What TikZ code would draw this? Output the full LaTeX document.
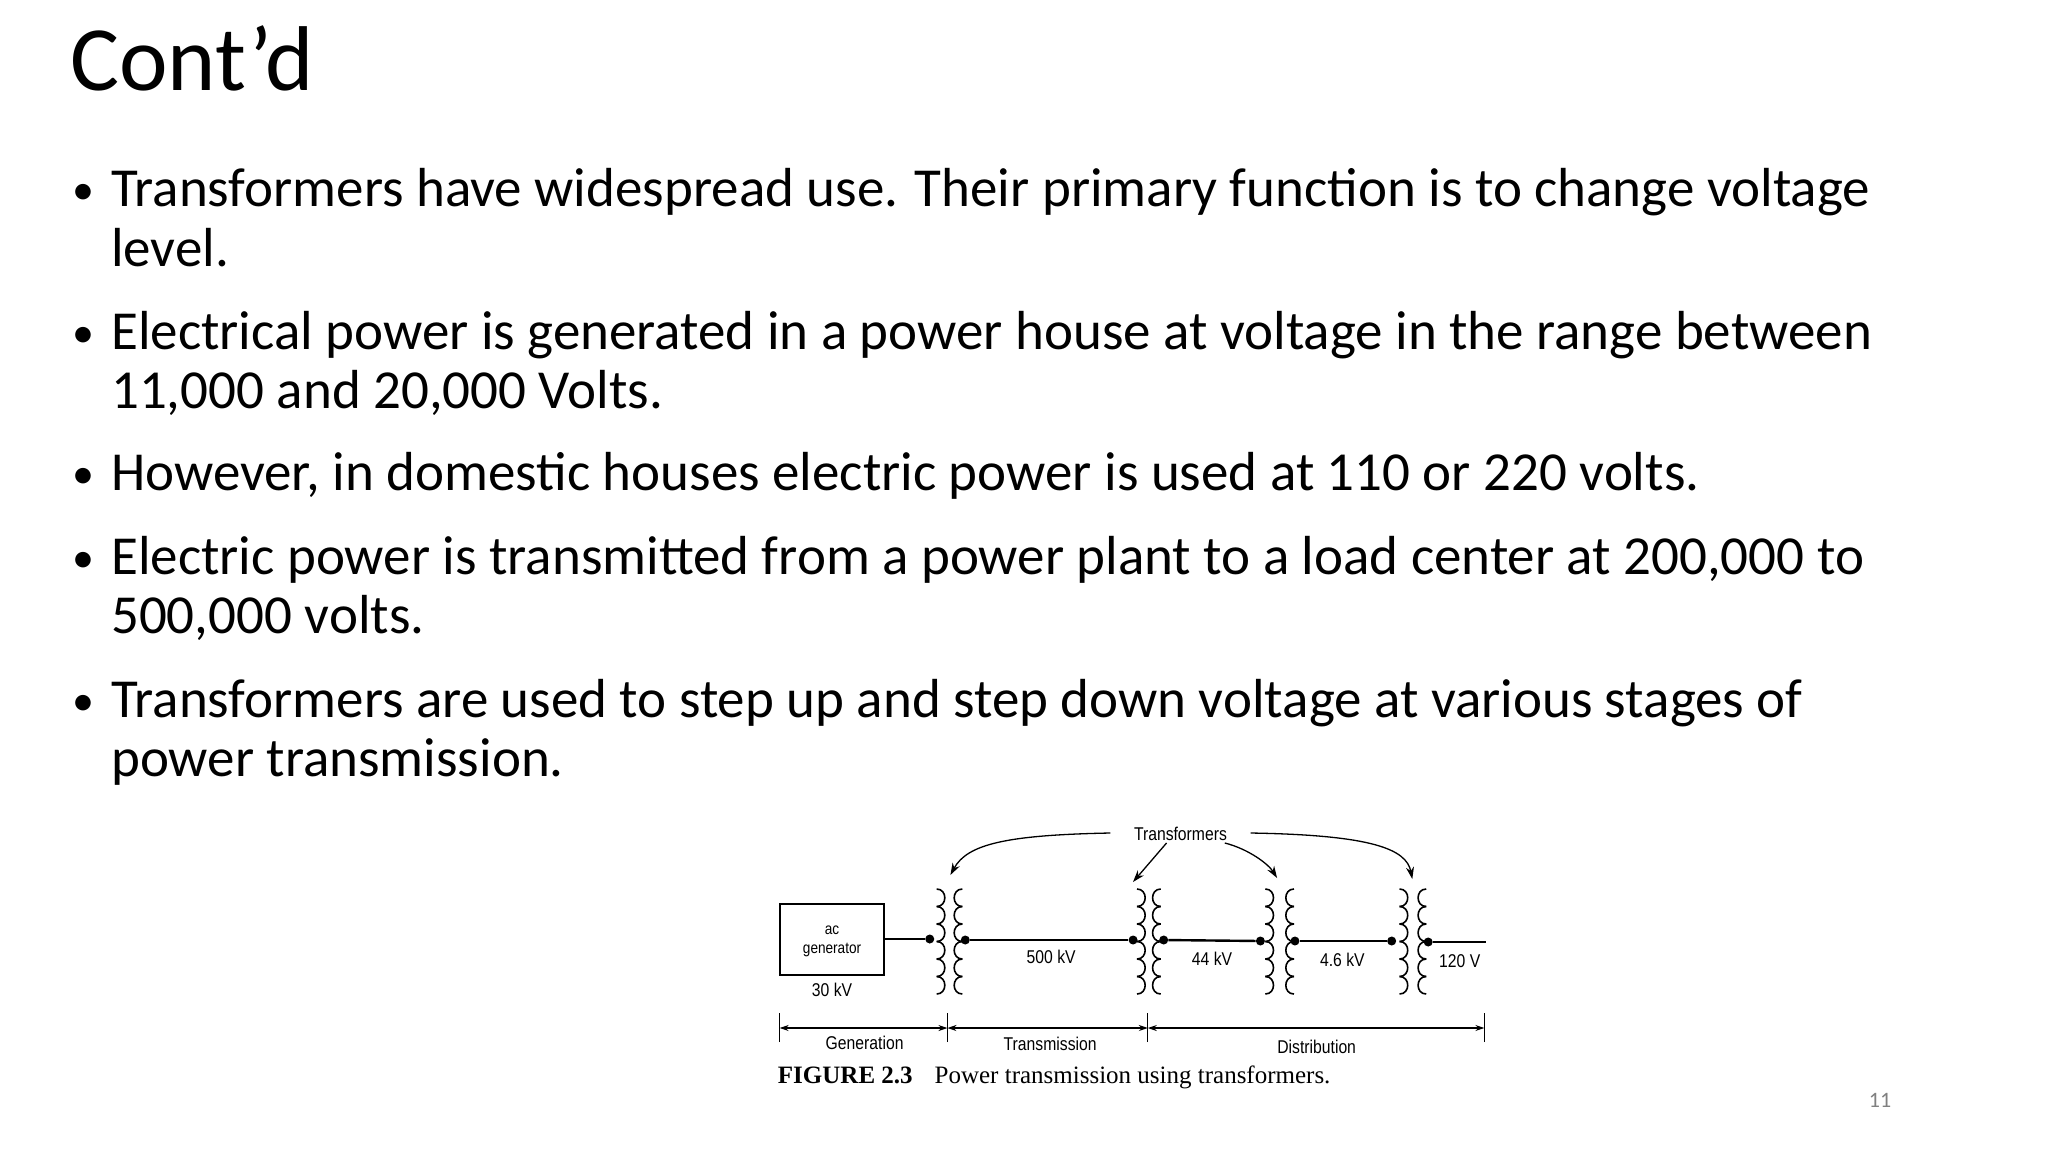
\documentclass[tikz,border=0pt]{standalone}
\usepackage{fontspec}
\setmainfont{Carlito}
\newfontfamily\figsans{Liberation Sans}[FakeStretch=0.85]
\newfontfamily\figserif{Liberation Serif}
\usetikzlibrary{arrows.meta}
\begin{document}
\begin{tikzpicture}[x=1pt,y=-1pt,
  bul/.style={anchor=base west,inner sep=0,font=\fontsize{55}{61}\selectfont},
  lab/.style={inner sep=0,font=\figsans\fontsize{18.5}{20}\selectfont},
  wire/.style={line width=2.4pt},
  coil/.style={line width=1.6pt},
  dotn/.style={circle,fill,inner sep=0,minimum size=9pt},
  ann/.style={line width=1.3pt,-{Stealth[length=12pt,width=8pt]}},
  dim/.style={line width=1.2pt}]
\useasboundingbox (0,0) rectangle (2048,1152);
\node[anchor=base west,inner sep=0,font=\fontsize{92}{100}\selectfont] (title) at (70,90) {Cont’d};
\foreach \n/\y/\t in {
 b1/206/{Transformers have widespread use. Their primary function is to change voltage},
 b1b/266/{level.},
 b2/349/{Electrical power is generated in a power house at voltage in the range between},
 b2b/408/{11,000 and 20,000 Volts.},
 b3/490/{However, in domestic houses electric power is used at 110 or 220 volts.},
 b4/574/{Electric power is transmitted from a power plant to a load center at 200,000 to},
 b4b/633/{500,000 volts.},
 b5/717/{Transformers are used to step up and step down voltage at various stages of},
 b5b/776/{power transmission.}}{
 \node[bul] (\n) at (111,\y) {\t};
}
\foreach \y in {206,349,490,574,717}{
 \node[bul,font=\fontsize{44}{50}\selectfont] at (72,\y-2) {•};
}
\node[font=\fontsize{22}{24}\selectfont,text=gray] (pg) at (1880,1100) {11};
\begin{scope}[xscale=0.987,shift={(0,-11)}]
% generator
\node[draw,line width=1.8pt,minimum width=104pt,minimum height=71pt,inner sep=0] (gen) at (843,950.5) {};
\node[lab,align=center,font=\figsans\fontsize{16}{19}\selectfont] (gt) at (843,952) {ac\\generator};
\node[lab] (kv30) at (843,1001) {30 kV};
% coils
\foreach \x/\s in {949/1,975/-1,1152/1,1176/-1,1282/1,1311/-1,1418/1,1445/-1}{
  \foreach \k in {0,...,5}{
    \draw[coil] (\x,900+17.5*\k) .. controls (\x+\s*11,900+17.5*\k) and (\x+\s*11,917.5+17.5*\k) .. (\x,917.5+17.5*\k);
  }
}
\node[dotn] (d1) at (942,950) {};
\node[dotn] (d2) at (978,951) {};
\node[dotn] (d3) at (1148,951) {};
\node[dotn] (d4) at (1179,951) {};
\node[dotn] (d5) at (1277,952) {};
\node[dotn] (d6) at (1312,952) {};
\node[dotn] (d7) at (1410,952) {};
\node[dotn] (d8) at (1447,953) {};
\coordinate (end) at (1506,953);
\draw[wire] (gen.east|-d1) -- (d1);
\draw[wire] (d2) -- (d3);
\draw[wire] (d4) -- (d5);
\draw[wire] (d6) -- (d7);
\draw[wire] (d8) -- (end);
\node[lab] (v1) at (1065,968) {500 kV};
\node[lab] (v2) at (1228,970) {44 kV};
\node[lab] (v3) at (1360,971) {4.6 kV};
\node[lab] (v4) at (1479,972) {120 V};
% annotation
\node[lab] (tr) at (1196,845) {Transformers};
\coordinate (a1) at (963,886);
\coordinate (a2) at (1148,893);
\coordinate (a3) at (1294,889);
\coordinate (a4) at (1431,890);
\draw[ann] (1125,844) .. controls (1020,846) and (980,855) .. (a1);
\draw[ann] (tr.south) ++(-14,2) -- (a2);
\draw[ann] (tr.south) ++(45,2) .. controls (1265,860) and (1285,875) .. (a3);
\draw[ann] (1267,844) .. controls (1390,846) and (1425,860) .. (a4);
% dimension
\coordinate (t1) at (790,1039);
\coordinate (t2) at (960,1039);
\coordinate (t3) at (1163,1039);
\coordinate (t4) at (1504,1039);
\foreach \t in {t1,t2,t3,t4}{\draw[dim] ([yshift=-14]\t) -- ([yshift=15]\t);}
\draw[dim,{Stealth[length=9pt,width=6pt]}-{Stealth[length=9pt,width=6pt]}] (t1) -- (t2);
\draw[dim,{Stealth[length=9pt,width=6pt]}-{Stealth[length=9pt,width=6pt]}] (t2) -- (t3);
\draw[dim,{Stealth[length=9pt,width=6pt]}-{Stealth[length=9pt,width=6pt]}] (t3) -- (t4);
\node[lab] (g) at (876,1054) {Generation};
\node[lab] (tm) at (1064,1055) {Transmission};
\node[lab] (ds) at (1334,1058) {Distribution};
\node[anchor=base west,inner sep=0,font=\figserif\fontsize{25}{28}\selectfont] (cap) at (788,1094) {\textbf{FIGURE 2.3}\hspace{22pt}Power transmission using transformers.};
\end{scope}
\end{tikzpicture}
\end{document}
